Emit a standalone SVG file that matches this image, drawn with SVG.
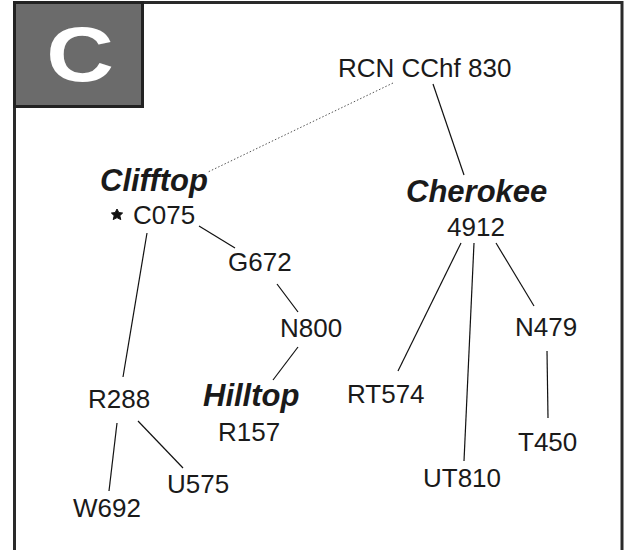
<svg xmlns="http://www.w3.org/2000/svg" width="631" height="550" viewBox="0 0 631 550">
<style>
.lbl{font-family:"Liberation Sans",Arial,sans-serif;font-size:26px;fill:#1a1a1a}
.site{font-family:"Liberation Sans",Arial,sans-serif;font-size:31px;font-weight:bold;font-style:italic;fill:#1a1a1a}
.ln{stroke:#111;stroke-width:1.2;fill:none}
.dot{stroke:#555;stroke-width:1;stroke-dasharray:1.5 2;fill:none}
</style>
<rect x="0" y="0" width="631" height="550" fill="#fff"/>
<rect x="14.5" y="2.5" width="607.5" height="570" fill="none" stroke="#2a2a2a" stroke-width="3"/>
<g id="panel-label">
<rect x="14.5" y="2.5" width="128" height="104" fill="#6b6b6b" stroke="#222" stroke-width="3"/>
<text transform="translate(80,80.5) scale(1.2,1)" text-anchor="middle" font-family="Liberation Sans,Arial,sans-serif" font-size="78" font-weight="bold" fill="#fff">C</text>
</g>
<g id="connectors">
<line class="dot" x1="393" y1="83" x2="208" y2="172"/>
<line class="ln" x1="433" y1="84" x2="464" y2="175"/>
<line class="ln" x1="199" y1="226" x2="235" y2="248"/>
<line class="ln" x1="147" y1="233" x2="123" y2="377"/>
<line class="ln" x1="277" y1="284" x2="298" y2="312"/>
<line class="ln" x1="298" y1="347" x2="273" y2="380"/>
<line class="ln" x1="117" y1="423" x2="109" y2="491"/>
<line class="ln" x1="138" y1="421" x2="183" y2="468"/>
<line class="ln" x1="461" y1="243" x2="398" y2="371"/>
<line class="ln" x1="474" y1="243" x2="464" y2="461"/>
<line class="ln" x1="496" y1="243" x2="534" y2="306"/>
<line class="ln" x1="547" y1="351" x2="548" y2="418"/>
</g>
<g id="RCN"><text class="lbl" x="338" y="77">RCN CChf 830</text></g>
<g id="Clifftop"><text class="site" x="100" y="191">Clifftop</text></g>
<g id="C075">
<polygon points="117,209 118.8,212.6 122.6,213 119.8,215.7 120.8,219.6 117,217.6 113.2,219.6 114.2,215.7 111.4,213 115.2,212.6" fill="#111" stroke="#111" stroke-width="1" stroke-linejoin="round"/>
<text class="lbl" x="133" y="224">C075</text>
</g>
<g id="G672"><text class="lbl" x="228" y="271">G672</text></g>
<g id="N800"><text class="lbl" x="280" y="337">N800</text></g>
<g id="Hilltop"><text class="site" x="203" y="406">Hilltop</text></g>
<g id="R157"><text class="lbl" x="218" y="441">R157</text></g>
<g id="R288"><text class="lbl" x="88" y="408">R288</text></g>
<g id="U575"><text class="lbl" x="167" y="493">U575</text></g>
<g id="W692"><text class="lbl" x="73" y="517">W692</text></g>
<g id="Cherokee"><text class="site" x="406" y="202">Cherokee</text></g>
<g id="n4912"><text class="lbl" x="447" y="236">4912</text></g>
<g id="RT574"><text class="lbl" x="347" y="403">RT574</text></g>
<g id="UT810"><text class="lbl" x="423" y="487">UT810</text></g>
<g id="N479"><text class="lbl" x="515" y="336">N479</text></g>
<g id="T450"><text class="lbl" x="518" y="451">T450</text></g>
</svg>
